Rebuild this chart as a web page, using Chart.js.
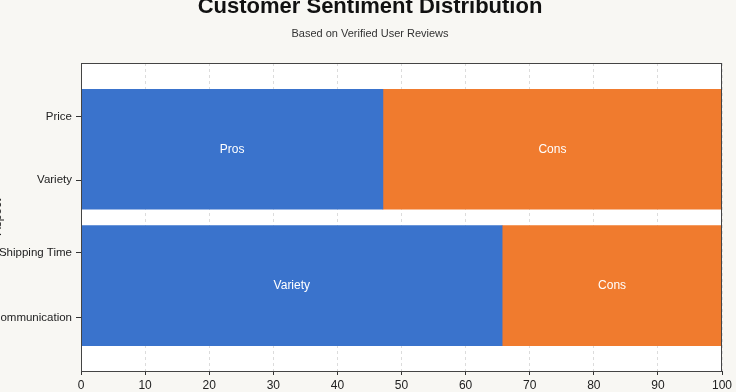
<!DOCTYPE html>
<html lang="en">
<head>
    <meta charset="UTF-8">
    <title>Customer Sentiment Distribution</title>
    <script src="https://cdn.jsdelivr.net/npm/chart.js"></script>
    <style>
        html, body {
            margin: 0;
            padding: 0;
            overflow: hidden;
            background: #f8f7f3;
        }
        .chart-wrap {
            position: absolute;
            left: -40px;
            top: -16px;
            width: 820px;
            height: 430px;
        }
    </style>
</head>
<body>
    <div class="chart-wrap">
        <canvas id="sentimentChart"></canvas>
    </div>

    <script>
        // Data
        const tickNames = ['Price', 'Variety', 'Shipping Time', 'Communication'];
        const tickPos = [17.4, 38.0, 61.6, 82.6];
        const barPos = [28.0, 72.3];
        const prosValues = [47.1, 65.7];
        const consValues = [52.9, 34.3];
        const prosLabels = ['Pros', 'Variety'];
        const consLabels = ['Cons', 'Cons'];
        const xTicks = [0, 10, 20, 30, 40, 50, 60, 70, 80, 90, 100];

        const FONT = "'Liberation Sans', Arial, sans-serif";

        // white plot area + dark frame
        const plotFrame = {
            id: 'plotFrame',
            beforeDatasetsDraw(chart) {
                const { ctx, chartArea: a } = chart;
                ctx.save();
                ctx.globalCompositeOperation = 'destination-over';
                ctx.fillStyle = '#ffffff';
                ctx.fillRect(a.left, a.top, a.right - a.left, a.bottom - a.top);
                ctx.restore();
            },
            afterDatasetsDraw(chart) {
                const { ctx, chartArea: a } = chart;
                ctx.save();
                ctx.strokeStyle = '#444444';
                ctx.lineWidth = 1;
                ctx.strokeRect(a.left + 0.5, a.top + 0.5, a.right - a.left - 1, a.bottom - a.top);
                ctx.restore();
            }
        };

        // text in the middle of each segment
        const segmentText = {
            id: 'segmentText',
            afterDatasetsDraw(chart) {
                const ctx = chart.ctx;
                ctx.save();
                ctx.fillStyle = '#ffffff';
                ctx.font = '12px ' + FONT;
                ctx.textAlign = 'center';
                ctx.textBaseline = 'middle';
                chart.data.datasets.forEach((ds, i) => {
                    chart.getDatasetMeta(i).data.forEach((bar, j) => {
                        ctx.fillText(ds.segLabels[j], (bar.x + bar.base) / 2, bar.y);
                    });
                });
                ctx.restore();
            }
        };

        new Chart(document.getElementById('sentimentChart'), {
            type: 'bar',
            data: {
                datasets: [{
                    label: 'Pros',
                    data: barPos.map((y, i) => ({ y: y, x: prosValues[i] })),
                    segLabels: prosLabels,
                    backgroundColor: '#3a73cc',
                    barThickness: 120
                }, {
                    label: 'Cons',
                    data: barPos.map((y, i) => ({ y: y, x: consValues[i] })),
                    segLabels: consLabels,
                    backgroundColor: '#f07b2e',
                    barThickness: 120
                }]
            },
            options: {
                indexAxis: 'y',
                responsive: true,
                maintainAspectRatio: false,
                animation: false,
                layout: { padding: 0 },
                plugins: {
                    legend: { display: false },
                    tooltip: { enabled: false },
                    title: {
                        display: true,
                        text: 'Customer Sentiment Distribution',
                        color: '#111111',
                        font: { family: FONT, size: 22, weight: 'bold' },
                        padding: { top: 10, bottom: 7 }
                    },
                    subtitle: {
                        display: true,
                        text: 'Based on Verified User Reviews',
                        color: '#333333',
                        font: { family: FONT, size: 11 },
                        padding: { top: 0, bottom: 22.4 }
                    }
                },
                scales: {
                    x: {
                        type: 'linear',
                        stacked: true,
                        min: 0,
                        max: 100,
                        afterBuildTicks: s => { s.ticks = xTicks.map(v => ({ value: v })); },
                        afterFit: s => { s.height = 43; },
                        ticks: {
                            color: '#222222',
                            font: { family: FONT, size: 12 },
                            padding: 3,
                            maxRotation: 0
                        },
                        grid: {
                            color: '#dcdcdc',
                            tickColor: '#333333',
                            tickLength: 4
                        },
                        border: { display: false, dash: [3, 3] }
                    },
                    y: {
                        type: 'linear',
                        stacked: true,
                        reverse: true,
                        offset: false,
                        min: 0,
                        max: 100,
                        afterBuildTicks: s => { s.ticks = tickPos.map(v => ({ value: v })); },
                        afterFit: s => { s.width = 121; },
                        ticks: {
                            color: '#222222',
                            font: { family: FONT, size: 11.5 },
                            padding: 4,
                            callback: (v, i) => tickNames[i]
                        },
                        grid: {
                            offset: false,
                            drawOnChartArea: false,
                            tickColor: '#333333',
                            tickLength: 5
                        },
                        border: { display: false },
                        title: {
                            display: true,
                            text: 'Aspect',
                            color: '#222222',
                            font: { family: FONT, size: 12 },
                            padding: { top: 30, bottom: 0 }
                        }
                    },
                    // empty right-hand strip so the title centres on the page
                    yPad: {
                        type: 'linear',
                        position: 'right',
                        display: true,
                        afterFit: s => { s.width = 58; },
                        ticks: { display: false },
                        grid: { display: false },
                        border: { display: false }
                    }
                }
            },
            plugins: [plotFrame, segmentText]
        });
    </script>
</body>
</html>
